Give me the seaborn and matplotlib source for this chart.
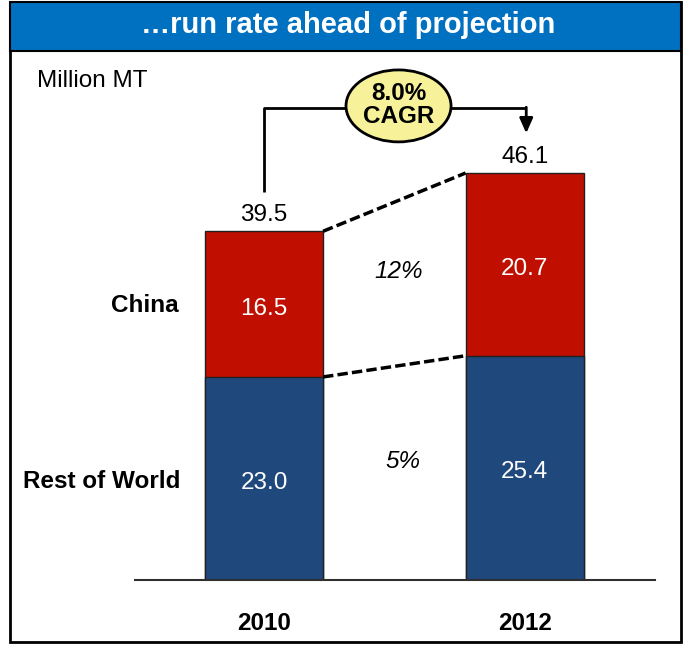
import matplotlib
matplotlib.use('Agg')
import matplotlib.pyplot as plt
import seaborn as sns
import pandas as pd
from matplotlib.patches import Rectangle, Ellipse

# Data
years = ['2010', '2012']
china = [16.5, 20.7]
rest_of_world = [23.0, 25.4]
totals = [39.5, 46.1]
growth_labels = ['12%', '5%']
cagr_label = '8.0%\nCAGR'

sns.set_style('white')
plt.rcParams['font.family'] = ['Liberation Sans', 'DejaVu Sans']
plt.rcParams['text.color'] = 'black'
plt.rcParams['xtick.color'] = 'black'

red = '#C00F00'
blue = '#1F487C'
fs = 17.5

df = pd.DataFrame({'year': years, 'china': china, 'row': rest_of_world, 'total': totals})

fig = plt.figure(figsize=(6.84, 6.46), dpi=100)

# background axes in pixel coordinates for frame, title and row labels
bg = fig.add_axes([0, 0, 1, 1], zorder=0)
bg.set_xlim(0, 684)
bg.set_ylim(646, 0)
bg.axis('off')
bg.add_patch(Rectangle((10, 2), 671, 640, fill=False, lw=2, edgecolor='black'))
bg.add_patch(Rectangle((10, 2), 671, 49, facecolor='#0070C0', edgecolor='black', lw=1.5))
bg.text(348, 25, '\u2026run rate ahead of projection', color='white', fontsize=21,
        fontweight='bold', ha='center', va='center')
bg.text(37, 81, 'Million MT', fontsize=fs, ha='left', va='center')
bg.text(145, 305, 'China', fontsize=fs, fontweight='bold', ha='center', va='center')
bg.text(102, 481, 'Rest of World', fontsize=fs, fontweight='bold', ha='center', va='center')

# chart axes
ax = fig.add_axes([135 / 684, 66 / 646, 520 / 684, 520 / 646], zorder=1)
ax.set_facecolor('none')
w = 0.453
sns.barplot(data=df, x='year', y='total', color=red, saturation=1, width=w,
            edgecolor='#202020', linewidth=1, ax=ax)
sns.barplot(data=df, x='year', y='row', color=blue, saturation=1, width=w,
            edgecolor='#202020', linewidth=1, ax=ax)
ax.set_xlim(-0.495, 1.50)
ax.set_ylim(0, 58.9)
ax.set_xlabel('')
ax.set_ylabel('')
ax.set_yticks([])
ax.tick_params(axis='x', length=0, pad=23, labelsize=fs)
for lbl in ax.get_xticklabels():
    lbl.set_fontweight('bold')
for s in ['top', 'left', 'right']:
    ax.spines[s].set_visible(False)
ax.spines['bottom'].set_color('#303030')
ax.spines['bottom'].set_linewidth(1.5)

# value labels
for i in range(len(years)):
    ax.text(i, totals[i] + 1.8, f'{totals[i]:.1f}', fontsize=fs, ha='center', va='center')
    ax.text(i, rest_of_world[i] + china[i] / 2 - 0.5, f'{china[i]:.1f}', fontsize=fs,
            color='white', ha='center', va='center')
    ax.text(i, rest_of_world[i] / 2 - 0.5, f'{rest_of_world[i]:.1f}', fontsize=fs,
            color='white', ha='center', va='center')

# dashed connectors between bars
ax.plot([w / 2, 1 - w / 2], [totals[0], totals[1]], color='black', lw=2.5,
        linestyle=(0, (3, 1.2)))
ax.plot([w / 2, 1 - w / 2], [rest_of_world[0], rest_of_world[1]], color='black', lw=2.5,
        linestyle=(0, (3, 1.2)))
ax.text(0.518, 34.9, growth_labels[0], fontsize=fs, style='italic', ha='center', va='center')
ax.text(0.534, 13.4, growth_labels[1], fontsize=fs, style='italic', ha='center', va='center')

# CAGR bracket
top = 53.45
ax.plot([0, 0, 1.006], [totals[0] + 4.4, top, top], color='black', lw=2, solid_capstyle='butt')
ax.annotate('', xy=(1.006, 50.6), xytext=(1.006, top + 0.1),
            arrowprops=dict(arrowstyle='-|>,head_width=0.2,head_length=0.45',
                            color='black', lw=2, mutation_scale=20, shrinkA=0, shrinkB=0))
ax.add_patch(Ellipse((0.516, 53.7), 0.403, 8.15, facecolor='#F7F29A', edgecolor='black',
                     lw=2, zorder=5))
ax.text(0.516, 53.8, cagr_label, fontsize=fs, fontweight='bold', ha='center', va='center',
        linespacing=1.05, zorder=6)

fig.savefig('out.png', dpi=100)
